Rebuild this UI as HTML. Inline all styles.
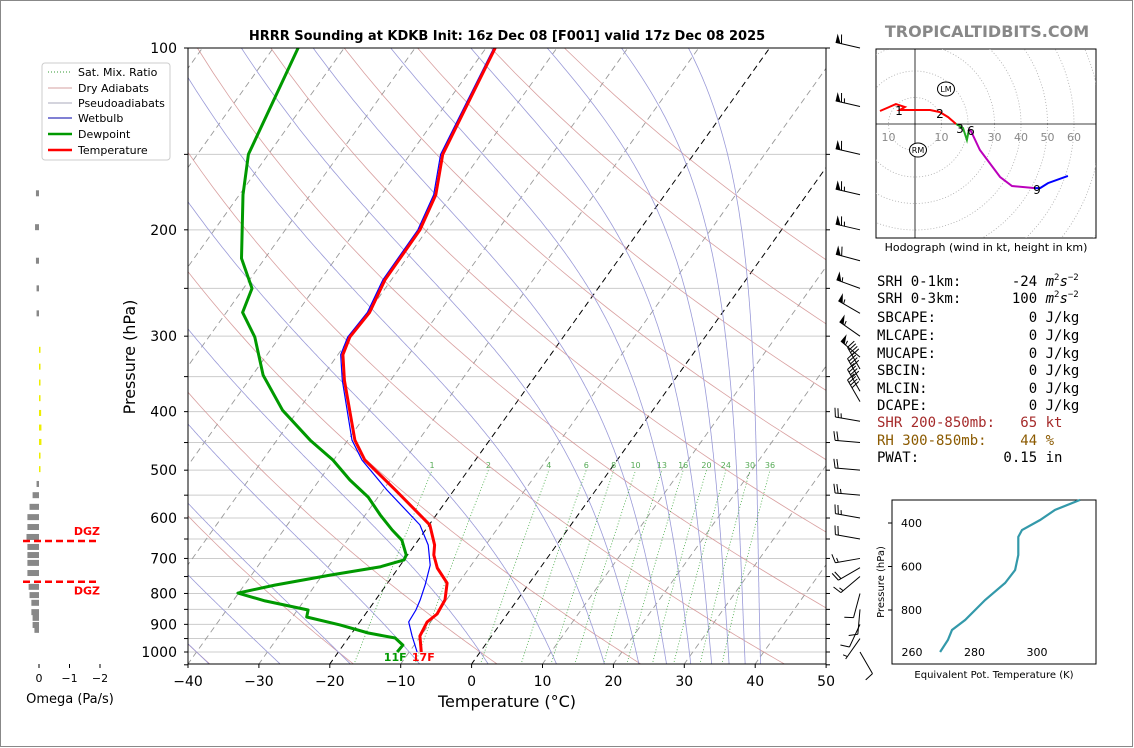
<!DOCTYPE html>
<html><head><meta charset="utf-8">
<style>
html,body{margin:0;padding:0;background:#fff;}
svg{display:block;font-family:"DejaVu Sans","Liberation Sans",sans-serif;}
</style></head>
<body>
<svg id="c" width="1134" height="748" viewBox="0 0 1134 748" xmlns="http://www.w3.org/2000/svg">
<rect x="0.5" y="0.5" width="1132" height="746" fill="#fff" stroke="#888"/>
<defs><clipPath id="pc"><rect x="188" y="48" width="638" height="616"/></clipPath>
<clipPath id="hc"><rect x="876" y="49" width="220" height="189"/></clipPath></defs>
<g id="bg" clip-path="url(#pc)"></g>
<g id="prof" clip-path="url(#pc)"></g>
<g id="axes"></g>
<text x="507" y="40" text-anchor="middle" font-size="13" font-weight="bold">HRRR Sounding at KDKB Init: 16z Dec 08 [F001] valid 17z Dec 08 2025</text>
<text x="987" y="37" text-anchor="middle" font-size="16" font-weight="bold" fill="#888">TROPICALTIDBITS.COM</text>
<text x="507" y="707" text-anchor="middle" font-size="16">Temperature (°C)</text>
<text transform="translate(135,357) rotate(-90)" text-anchor="middle" font-size="16">Pressure (hPa)</text>
<g>
<rect x="42" y="63" width="128" height="97" rx="3" fill="#fff" stroke="#ccc"/>
<g font-size="11">
<line x1="48" y1="72" x2="72" y2="72" stroke="#393" stroke-dasharray="1,2"/><text x="78" y="76">Sat. Mix. Ratio</text>
<line x1="48" y1="88" x2="72" y2="88" stroke="#d4a0a0"/><text x="78" y="92">Dry Adiabats</text>
<line x1="48" y1="103" x2="72" y2="103" stroke="#aab"/><text x="78" y="107">Pseudoadiabats</text>
<line x1="48" y1="118" x2="72" y2="118" stroke="#00a"/><text x="78" y="122">Wetbulb</text>
<line x1="48" y1="134" x2="72" y2="134" stroke="#090" stroke-width="2.5"/><text x="78" y="138">Dewpoint</text>
<line x1="48" y1="150" x2="72" y2="150" stroke="#f00" stroke-width="2.5"/><text x="78" y="154">Temperature</text>
</g></g>
<g id="omega"></g>
<g id="barbs"></g>
<g id="hodo"></g>
<g font-family="'DejaVu Sans Mono','Liberation Mono',monospace" font-size="14">
<text x="877" y="286" xml:space="preserve">SRH 0-1km:      -24 <tspan font-style="italic">m</tspan><tspan font-size="9" dy="-6">2</tspan><tspan font-style="italic" dy="6">s</tspan><tspan font-size="9" dy="-6">−2</tspan></text>
<text x="877" y="303" xml:space="preserve">SRH 0-3km:      100 <tspan font-style="italic">m</tspan><tspan font-size="9" dy="-6">2</tspan><tspan font-style="italic" dy="6">s</tspan><tspan font-size="9" dy="-6">−2</tspan></text>
<text x="877" y="322" xml:space="preserve">SBCAPE:           0 J/kg</text>
<text x="877" y="340" xml:space="preserve">MLCAPE:           0 J/kg</text>
<text x="877" y="358" xml:space="preserve">MUCAPE:           0 J/kg</text>
<text x="877" y="375" xml:space="preserve">SBCIN:            0 J/kg</text>
<text x="877" y="393" xml:space="preserve">MLCIN:            0 J/kg</text>
<text x="877" y="410" xml:space="preserve">DCAPE:            0 J/kg</text>
<text x="877" y="427" fill="#a52a2a" xml:space="preserve">SHR 200-850mb:   65 kt</text>
<text x="877" y="445" fill="#8b5a00" xml:space="preserve">RH 300-850mb:    44 %</text>
<text x="877" y="462" xml:space="preserve">PWAT:          0.15 in</text>
</g>
<g id="the"></g>
</svg>
<script>
// ---- data ----
const tempP=[100,150,175,200,242,274,301,322,355,446,481,539,616,665,691,726,769,820,865,892,941,1000];
const tempT=[-58.7,-55.4,-52.3,-51.0,-50.9,-49.8,-50.1,-49.3,-46.5,-39.0,-35.6,-28.3,-19.9,-17.2,-16.3,-14.5,-11.6,-10.2,-9.9,-10.5,-10.1,-8.3];
const dewP=[100,150,175,223,250,274,301,348,398,446,481,519,554,593,628,653,691,704,723,746,775,799,823,852,875,902,930,948,974,1000];
const dewT=[-86.5,-82.8,-79.5,-73.3,-68.8,-67.7,-63.5,-58.5,-52.2,-45.3,-40.1,-35.7,-31.4,-27.9,-24.7,-22.3,-20.2,-20.0,-22.7,-28.9,-35.7,-40.1,-35.5,-28.5,-28.0,-22.5,-17.7,-13.4,-11.6,-11.7];
const wbP=[100,150,175,200,242,274,301,322,355,446,481,539,616,665,718,775,820,852,892,941,1000];
const wbT=[-58.9,-55.7,-52.6,-51.3,-51.2,-50.1,-50.4,-49.6,-46.8,-39.4,-36.0,-29.5,-21.3,-18.1,-15.8,-14.5,-13.7,-13.3,-13.1,-11.2,-8.9];
const isotherms=[-100,-90,-80,-70,-60,-50,-40,-30,-20,-10,0,10,20,30,40,50];
const dryT1000=[-100,-80,-60,-40,-20,0,20,40,60,80,100,120,140,160];
const moistT1000=[-40,-30,-20,-10,0,10,17,22,26,29.5,32.5,35,37.3,39.5];
const mixW=[1,2,4,6,8,10,13,16,20,24,30,36];
const pTicks=[100,200,300,400,500,600,700,800,900,1000];
const tTicks=[-40,-30,-20,-10,0,10,20,30,40,50];
const omegaP=[174,198,225,250,275,316,337,358,380,402,425,449,473,498,527,550,575,598,621,645,670,691,712,740,780,805,829,859,878,902,919];
const omegaV=[0.10,0.13,0.10,0.08,0.08,-0.02,-0.03,-0.04,-0.05,-0.07,-0.08,-0.08,-0.05,-0.02,0.08,0.21,0.31,0.38,0.38,0.41,0.38,0.38,0.38,0.38,0.34,0.31,0.25,0.25,0.21,0.21,0.15];
const barbP=[100,125,150,175,200,225,250,275,300,325,340,355,370,385,415,450,500,550,600,650,700,725,750,800,850,900,950,1000];
const barbSpd=[60,65,60,65,65,60,55,55,55,55,40,40,40,40,25,20,20,25,25,20,15,20,15,10,10,10,5,10];
const barbDir=[283,283,283,283,283,285,290,300,305,310,330,330,330,330,280,275,275,275,280,280,260,240,230,195,185,205,215,150];
const hodoU0=[-13.2,-7.2,-3.8,-5.7,5.7,9.4,12.5,15.5];
const hodoV0=[4.9,7.5,6.4,5.3,5.3,4.5,2.6,0];
const hodoU1=[15.5,18.1,19.6,20.4];
const hodoV1=[0,-1.5,-6,-1.9];
const hodoU2=[20.4,21.1,24.5,32.1,36.6,45.3];
const hodoV2=[-1.9,-2.6,-9.8,-20,-23.4,-24.2];
const hodoU3=[45.3,47.2,50.2,57.7];
const hodoV3=[-24.2,-24.2,-22.3,-19.6];
const theP=[993,938,892,846,754,676,616,547,464,432,386,340,294];
const theK=[269,271.5,272.8,277,283.4,289.8,293,294,294,295.2,301,305.8,313.8];

// ---- helpers ----
const NS="http://www.w3.org/2000/svg";
function mk(parent,tag,attrs,txt){const e=document.createElementNS(NS,tag);for(const k in attrs)e.setAttribute(k,attrs[k]);if(txt!==undefined)e.textContent=txt;parent.appendChild(e);return e;}
const X0=188,X1=826,Y0=48,Y1=664,PX=7.09,SK=0.714;
function yP(p){return Y0+604*Math.log10(p/100);}
function xT(T,p){const y=yP(p);return X0+(T+40)*PX+(Y1-y)*SK;}
function pathFrom(Ts,Ps){return Ts.map((t,i)=>(i?'L':'M')+xT(t,Ps[i]).toFixed(1)+','+yP(Ps[i]).toFixed(1)).join('');}

const bg=document.getElementById('bg');
// horizontal grid
for(let p=100;p<=1050;p+=50){const l=mk(bg,'line',{x1:X0,x2:X1,y1:yP(p),y2:yP(p),stroke:'#ccc','stroke-width':1});

}
// isotherms
isotherms.forEach(T=>{const blk=(T===0||T===-20);const l=mk(bg,'line',{x1:xT(T,1050),y1:yP(1050),x2:xT(T,90),y2:yP(90),stroke:blk?'#000':'#999','stroke-width':blk?1:0.9,'stroke-dasharray':'6,4'});

});
// dry adiabats
dryT1000.forEach(T0=>{const th=T0+273.15;const Ts=[],Ps=[];for(let p=1050;p>=100;p-=10){Ps.push(p);Ts.push(th*Math.pow(p/1000,0.286)-273.15);}
const l=mk(bg,'path',{d:pathFrom(Ts,Ps),fill:'none',stroke:'#d08888','stroke-width':0.8,opacity:0.8});

});
// moist adiabats
function es(Tc){return 6.112*Math.exp(17.67*Tc/(Tc+243.5));}
function moist(T0){const Rd=287.04,cp=1005.7,Lv=2.501e6,eps=0.622;
 function dTdp(T,p){const e=es(T-273.15);const rs=eps*e/(p-e);return (Rd*T+Lv*rs)/(p*(cp+Lv*Lv*rs*eps/(Rd*T*T)));}
 let up=[],T=T0+273.15;for(let p=1000;p>=100;p-=2){up.push([p,T-273.15]);T-=dTdp(T,p)*2;}
 let dn=[];T=T0+273.15;for(let p=1000;p<=1050;p+=2){dn.push([p,T-273.15]);T+=dTdp(T,p)*2;}
 const all=dn.reverse().concat(up.slice(1));return all;}
moistT1000.forEach(T0=>{const pts=moist(T0);const l=mk(bg,'path',{d:pathFrom(pts.map(a=>a[1]),pts.map(a=>a[0])),fill:'none',stroke:'#9a9ad8','stroke-width':0.8});

});
// mixing ratio lines
function tdFromW(w,p){const e=w*p/(622+w);const a=Math.log(e/6.112);return 243.5*a/(17.67-a);}
mixW.forEach(w=>{const Ts=[],Ps=[];for(let p=1050;p>=500;p-=10){Ps.push(p);Ts.push(tdFromW(w,p));}
const l=mk(bg,'path',{d:pathFrom(Ts,Ps),fill:'none',stroke:'#4a4','stroke-width':0.8,'stroke-dasharray':'1,2'});


const t=mk(bg,'text',{x:xT(tdFromW(w,500),500),y:yP(500)-2,'text-anchor':'middle','font-size':8,fill:'#5a5'},String(w));

});

// profiles
const prof=document.getElementById('prof');
let e=mk(prof,'path',{d:pathFrom(wbT,wbP),fill:'none',stroke:'#00f','stroke-width':1.2});


e=mk(prof,'path',{d:pathFrom(dewT,dewP),fill:'none',stroke:'#090','stroke-width':3,'stroke-linejoin':'round'});


e=mk(prof,'path',{d:pathFrom(tempT,tempP),fill:'none',stroke:'#f00','stroke-width':3,'stroke-linejoin':'round'});


e=mk(prof,'text',{x:xT(dewT[dewT.length-1],1000)-2,y:661,'text-anchor':'middle','font-size':11,'font-weight':'bold',fill:'#090'},'11F');


e=mk(prof,'text',{x:xT(tempT[tempT.length-1],1000)+2,y:661,'text-anchor':'middle','font-size':11,'font-weight':'bold',fill:'#f00'},'17F');



// axes
const ax=document.getElementById('axes');
mk(ax,'rect',{x:X0,y:Y0,width:X1-X0,height:Y1-Y0,fill:'none',stroke:'#000','stroke-width':1});
for(let p=100;p<=1050;p+=50){mk(ax,'line',{x1:X0-4,x2:X0,y1:yP(p),y2:yP(p),stroke:'#000'});mk(ax,'line',{x1:X1,x2:X1+4,y1:yP(p),y2:yP(p),stroke:'#000'});}
pTicks.forEach(p=>{e=mk(ax,'text',{x:177,y:yP(p)+5,'text-anchor':'end','font-size':14},String(p));

});
tTicks.forEach(T=>{const x=X0+(T+40)*PX;mk(ax,'line',{x1:x,x2:x,y1:Y1,y2:Y1+4,stroke:'#000'});
e=mk(ax,'text',{x:x,y:686,'text-anchor':'middle','font-size':14},String(T).replace('-','−'));

});

// omega panel
const om=document.getElementById('omega');
const OX0=39,OS=30.5;
omegaP.forEach((p,i)=>{const v=omegaV[i];const w=Math.abs(v)*OS;const x=v>=0?OX0-w:OX0;const r=mk(om,'rect',{x:x,y:yP(p)-3,width:Math.max(w,1.5),height:6,fill:v>=0?'#888':'#ee0'});

});
[[yP(655),'DGZ',-6],[yP(765),'DGZ',14]].forEach(a=>{mk(om,'line',{x1:23,x2:98,y1:a[0],y2:a[0],stroke:'#f00','stroke-width':2.5,'stroke-dasharray':'7,4'});
e=mk(om,'text',{x:100,y:a[0]+a[2]+(a[2]>0?-1:0),'text-anchor':'end','font-size':11,'font-weight':'bold',fill:'#f00'},a[1]);

});
[[0,'0'],[-1,'−1'],[-2,'−2']].forEach(a=>{const x=OX0-a[0]*OS;mk(om,'line',{x1:x,x2:x,y1:664,y2:668,stroke:'#000'});mk(om,'text',{x:x,y:682,'text-anchor':'middle','font-size':11},a[1]);});
e=mk(om,'text',{x:70,y:703,'text-anchor':'middle','font-size':13},'Omega (Pa/s)');



// wind barbs
const bb=document.getElementById('barbs');
barbP.forEach((p,i)=>{const bx=860,by=yP(p),L=25;const d=barbDir[i]*Math.PI/180;const dx=Math.sin(d),dy=-Math.cos(d);
const px=-dy,py=dx;const tx=bx+dx*L,ty=by+dy*L;
const g=mk(bb,'g',{});


mk(g,'line',{x1:bx,y1:by,x2:tx,y2:ty,stroke:'#000','stroke-width':1});
let s=Math.round(barbSpd[i]/5)*5,pos=0;
while(s>=50){const a=[tx-dx*pos,ty-dy*pos],b=[tx-dx*(pos+5),ty-dy*(pos+5)],c=[tx-dx*pos+px*9,ty-dy*pos+py*9];
mk(g,'polygon',{points:[a,c,b].map(q=>q.join(',')).join(' '),fill:'#000'});pos+=6;s-=50;}
while(s>=10){mk(g,'line',{x1:tx-dx*pos,y1:ty-dy*pos,x2:tx-dx*pos+px*9+dx*2,y2:ty-dy*pos+py*9+dy*2,stroke:'#000'});pos+=3;s-=10;}
if(s>=5){if(pos===0)pos=3;mk(g,'line',{x1:tx-dx*pos,y1:ty-dy*pos,x2:tx-dx*pos+px*4.5+dx,y2:ty-dy*pos+py*4.5+dy,stroke:'#000'});}
});

// hodograph
const hd=document.getElementById('hodo');
mk(hd,'rect',{x:876,y:49,width:220,height:189,fill:'#fff',stroke:'#000'});
const HC=[915,124],HS=2.65;
const hg=mk(hd,'g',{'clip-path':'url(#hc)'});
for(let r=10;r<=80;r+=10){e=mk(hg,'circle',{cx:HC[0],cy:HC[1],r:r*HS,fill:'none',stroke:'#aaa','stroke-dasharray':'1,2','stroke-width':0.8});

}
mk(hg,'line',{x1:876,x2:1096,y1:HC[1],y2:HC[1],stroke:'#000','stroke-width':0.8});
mk(hg,'line',{x1:HC[0],x2:HC[0],y1:49,y2:238,stroke:'#000','stroke-width':0.8});
[[-10,'10'],[10,'10'],[30,'30'],[40,'40'],[50,'50'],[60,'60']].forEach(a=>mk(hg,'text',{x:HC[0]+a[0]*HS,y:HC[1]+17,'text-anchor':'middle','font-size':11,fill:'#888'},a[1]));
[[hodoU0,hodoV0,'#f00'],[hodoU1,hodoV1,'#2a2'],[hodoU2,hodoV2,'#b0b'],[hodoU3,hodoV3,'#00f']].forEach(s=>{
e=mk(hg,'path',{d:s[0].map((u,i)=>(i?'L':'M')+(HC[0]+u*HS).toFixed(1)+','+(HC[1]-s[1][i]*HS).toFixed(1)).join(''),fill:'none',stroke:s[2],'stroke-width':2});

});
[[899,115,'1'],[940,118,'2'],[960,133,'3'],[971,135,'6'],[1037,194,'9']].forEach(a=>mk(hg,'text',{x:a[0],y:a[1],'text-anchor':'middle','font-size':12},a[2]));
[[946,89,'LM'],[918,150,'RM']].forEach(a=>{mk(hg,'ellipse',{cx:a[0],cy:a[1],rx:8.5,ry:7,fill:'#fff',stroke:'#000'});mk(hg,'text',{x:a[0],y:a[1]+3,'text-anchor':'middle','font-size':8},a[2]);});
e=mk(hd,'text',{x:986,y:251,'text-anchor':'middle','font-size':11},'Hodograph (wind in kt, height in km)');



// theta-e inset
const th=document.getElementById('the');
mk(th,'rect',{x:892,y:500,width:204,height:164,fill:'#fff',stroke:'#000'});
function ty(p){return 523+(p-400)*0.2175;}function tx(k){return 912+(k-260)*3.125;}
[400,600,800].forEach(p=>{mk(th,'line',{x1:888,x2:892,y1:ty(p),y2:ty(p),stroke:'#000'});mk(th,'text',{x:922,y:ty(p)+4,'text-anchor':'end','font-size':11},String(p));});
[260,280,300].forEach(k=>mk(th,'text',{x:tx(k),y:656,'text-anchor':'middle','font-size':11},String(k)));
e=mk(th,'path',{d:theK.map((k,i)=>(i?'L':'M')+tx(k).toFixed(1)+','+ty(theP[i]).toFixed(1)).join(''),fill:'none',stroke:'#3399aa','stroke-width':2.2});


mk(th,'text',{transform:'translate(884,582) rotate(-90)','text-anchor':'middle','font-size':10},'Pressure (hPa)');
mk(th,'text',{x:994,y:678,'text-anchor':'middle','font-size':10},'Equivalent Pot. Temperature (K)');
</script>
</body></html>
